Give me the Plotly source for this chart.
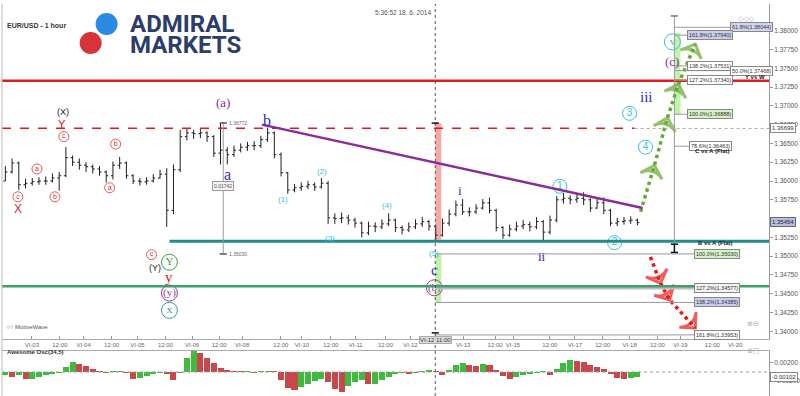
import plotly.graph_objects as go

# ------------------------------------------------------------------ data
# 3-hour bars, EUR/USD (hour offsets from chart start)
closes = [
    1.3612, 1.3624, 1.3595, 1.3597, 1.3599, 1.3600, 1.3600, 1.3604, 1.3607, 1.3631,
    1.3625, 1.3621, 1.3619, 1.3616, 1.3612, 1.3607, 1.3621, 1.3624, 1.3607, 1.3600,
    1.3599, 1.3600, 1.3604, 1.3609, 1.3561, 1.3615, 1.3659, 1.3664, 1.3663, 1.3664,
    1.3659, 1.3637, 1.3641, 1.3635, 1.3641, 1.3645, 1.3647, 1.3647, 1.3655, 1.3664,
    1.3635, 1.3611, 1.3588, 1.3591, 1.3593, 1.3595, 1.3592, 1.3597, 1.3551, 1.3550,
    1.3551, 1.3548, 1.3544, 1.3531, 1.3540, 1.3539, 1.3543, 1.3548, 1.3538, 1.3535,
    1.3539, 1.3543, 1.3546, 1.3540, 1.3528, 1.3544, 1.3556, 1.3568, 1.3559, 1.3559,
    1.3564, 1.3571, 1.3561, 1.3538, 1.3528, 1.3536, 1.3540, 1.3542, 1.3539, 1.3546,
    1.3532, 1.3548, 1.3575, 1.3577, 1.3575, 1.3577, 1.3575, 1.3564, 1.3571, 1.3561,
    1.3544, 1.3546, 1.3547, 1.3548, 1.3545]
highs = [
    1.3620, 1.3630, 1.3626, 1.3603, 1.3604, 1.3605, 1.3606, 1.3610, 1.3612, 1.3645,
    1.3634, 1.3630, 1.3625, 1.3622, 1.3620, 1.3614, 1.3626, 1.3632, 1.3626, 1.3609,
    1.3604, 1.3605, 1.3609, 1.3615, 1.3617, 1.3622, 1.3668, 1.3670, 1.3668, 1.3669,
    1.3666, 1.3661, 1.3677, 1.3645, 1.3647, 1.3650, 1.3652, 1.3653, 1.3660, 1.3671,
    1.3666, 1.3638, 1.3612, 1.3596, 1.3598, 1.3600, 1.3598, 1.3604, 1.3600, 1.3557,
    1.3558, 1.3555, 1.3551, 1.3546, 1.3546, 1.3545, 1.3549, 1.3557, 1.3550, 1.3541,
    1.3545, 1.3549, 1.3552, 1.3548, 1.3542, 1.3550, 1.3562, 1.3574, 1.3576, 1.3565,
    1.3569, 1.3576, 1.3578, 1.3563, 1.3540, 1.3542, 1.3546, 1.3548, 1.3546, 1.3552,
    1.3548, 1.3554, 1.3580, 1.3584, 1.3581, 1.3583, 1.3585, 1.3577, 1.3577, 1.3578,
    1.3563, 1.3551, 1.3552, 1.3553, 1.3550]
lows = [
    1.3600, 1.3610, 1.3588, 1.3590, 1.3594, 1.3595, 1.3595, 1.3598, 1.3587, 1.3605,
    1.3620, 1.3615, 1.3612, 1.3610, 1.3607, 1.3598, 1.3602, 1.3616, 1.3603, 1.3596,
    1.3594, 1.3595, 1.3598, 1.3603, 1.3539, 1.3556, 1.3612, 1.3654, 1.3656, 1.3657,
    1.3652, 1.3632, 1.3622, 1.3622, 1.3632, 1.3638, 1.3640, 1.3641, 1.3644, 1.3652,
    1.3630, 1.3606, 1.3583, 1.3585, 1.3587, 1.3589, 1.3587, 1.3590, 1.3543, 1.3543,
    1.3544, 1.3542, 1.3538, 1.3525, 1.3528, 1.3532, 1.3536, 1.3540, 1.3532, 1.3529,
    1.3532, 1.3536, 1.3539, 1.3534, 1.3521, 1.3526, 1.3540, 1.3553, 1.3555, 1.3553,
    1.3556, 1.3562, 1.3557, 1.3533, 1.3523, 1.3526, 1.3533, 1.3536, 1.3533, 1.3536,
    1.3521, 1.3529, 1.3545, 1.3570, 1.3569, 1.3571, 1.3568, 1.3559, 1.3563, 1.3556,
    1.3540, 1.3540, 1.3542, 1.3543, 1.3541]
first_open = 1.3600

# Awesome Oscillator (34,5)
ao = [
    -0.0007, -0.0011, -0.0007, -0.0015, -0.0015, -0.0011, -0.0007, -0.0004, -0.0002, 0.0011,
    0.0022, 0.0018, 0.0013, 0.0007, 0.0002, -0.0002, 0.0001, 0.0002, -0.0002, -0.0015,
    -0.0013, -0.0009, -0.0004, -0.0002, -0.0004, -0.0018, -0.0002, 0.0031, 0.0046, 0.0042,
    0.0031, 0.0020, 0.0009, 0.0004, 0.0002, 0.0001, 0.0001, -0.0002, 0.0001, 0.0002,
    0.0001, -0.0018, -0.0035, -0.0040, -0.0033, -0.0026, -0.0020, -0.0015, -0.0022, -0.0037,
    -0.0044, -0.0031, -0.0022, -0.0018, -0.0026, -0.0026, -0.0018, -0.0011, -0.0004, -0.0002,
    -0.0004, -0.0002, 0.0002, 0.0004, 0.0001, -0.0007, 0.0004, 0.0015, 0.0020, 0.0015,
    0.0013, 0.0018, 0.0015, 0.0004, -0.0009, -0.0015, -0.0011, -0.0007, -0.0004, -0.0002,
    0.0001, -0.0007, 0.0007, 0.0020, 0.0026, 0.0024, 0.0022, 0.0015, 0.0011, 0.0007,
    -0.0004, -0.0013, -0.0015, -0.0013, -0.0011]

bar_hours = [1.5 + 3 * k for k in range(len(closes))]
opens = [first_open] + closes[:-1]

tick_pos = [13.3, 25.8, 36.4, 48.9, 60.4, 72.9, 84.9, 96.9, 107.1, 124.4, 133.8, 146.7,
            157.8, 171.1, 182.2, 205.8, 220.0, 228.0, 244.4, 255.6, 268.0, 280.0,
            292.4, 302.7, 316.9, 327.1]
tick_text = ['VI-03', '12:00', 'VI-04', '12:00', 'VI-05', '12:00', 'VI-06', '12:00',
             'VI-08', '12:00', 'VI-10', '12:00', 'VI-11', '12:00', 'VI-12', 'VI-13',
             '12:00', 'VI-15', '12:00', 'VI-17', '12:00', 'VI-18', '12:00', 'VI-19',
             '12:00', 'VI-20']
price_ticks = [1.3400, 1.3425, 1.3450, 1.3475, 1.3500, 1.3525, 1.3550, 1.3575, 1.3600,
               1.3625, 1.3650, 1.3675, 1.3700, 1.3725, 1.3750, 1.3775, 1.3800]
# the 1.35500 label is hidden behind the last-price box in the reference
price_tick_text = ['1.34000', '1.34250', '1.34500', '1.34750', '1.35000', '1.35250', '',
                   '1.35750', '1.36000', '1.36250', '1.36500', '1.36750', '1.37000',
                   '1.37250', '1.37500', '1.37750', '1.38000']

# key levels
level_yw = 1.37334
level_dash = 1.3670
level_teal = 1.3520
level_green = 1.3460
trend_h = [116.0, 285.8]
trend_p = [1.3675, 1.3564]

# Fibonacci projections
fib_up_text = ['61.8%(1.38044)', '161.8%(1.37940)', '138.2%(1.37531)', '50.0%(1.37468)',
               '127.2%(1.37340)', '100.0%(1.36888)', '78.6%(1.36463)']
fib_up_price = [1.38044, 1.37940, 1.37531, 1.37468, 1.37340, 1.36888, 1.36463]
fib_up_box = [324.9, 305.8, 305.8, 324.9, 305.8, 305.8, 306.7]
fib_up_bg = ['#d3d5f0', '#c9cdee', '#ffffff', '#ffffff', '#ffffff', '#d6f2c8', '#ffffff']
fib_dn_text = ['100.0%(1.35030)', '127.2%(1.34577)', '138.2%(1.34385)', '161.8%(1.33953)']
fib_dn_price = [1.35030, 1.34577, 1.34385, 1.33953]
fib_dn_bg = ['#d6f2c8', '#f2f2f2', '#c9cdee', '#ffffff']

# projected paths
green_h = [284.9, 291.1, 296.9, 301.8, 309.3]
green_p = [1.3559, 1.3621, 1.3684, 1.3729, 1.3782]
red_h = [289.3, 293.8, 297.8, 309.3]
red_p = [1.3499, 1.3464, 1.3442, 1.34045]

# wave labels
red_circ_text = ['c', 'a', 'b', 'c', 'a', 'b', 'c']
red_circ_h = [7.1, 15.6, 23.6, 27.6, 48.0, 50.7, 66.7]
red_circ_p = [1.3579, 1.3616, 1.3579, 1.3659, 1.3591, 1.3649, 1.3502]

big_circ_text = ['Y', '(y)', 'x', '(b)', 'v']
big_circ_h = [74.7, 74.7, 74.7, 192.9, 299.1]
big_circ_p = [1.3492, 1.3451, 1.3428, 1.3458, 1.3785]
big_circ_col = ['#3a9a3a', '#9a3aa0', '#2a9a9a', '#9a3aa0', '#3bbde0']

num_circ_text = ['1', '2', '3', '4']
num_circ_h = [248.9, 273.3, 280.0, 287.1]
num_circ_p = [1.3593, 1.3518, 1.3690, 1.3645]

CY = '#3bbde0'
BL = '#2a2ad0'
PU = '#8b2a9b'
SANS = 'Liberation Sans, Arial, sans-serif'
SERIF = 'Liberation Serif, DejaVu Serif, serif'
wave_text = ['X', 'Y', '(X)', '(Y)', 'y', '(a)', 'b', 'a', '(1)', '(2)', '(3)', '(4)',
             '(5)', 'c', 'i', 'ii', 'iii', '(c)']
wave_h = [7.1, 26.7, 27.1, 68.4, 74.7, 98.7, 118.2, 100.4, 125.3, 142.7, 146.2, 171.6,
          192.9, 192.9, 204.4, 240.9, 287.6, 299.1]
wave_p = [1.3563, 1.3676, 1.3692, 1.3484, 1.3472, 1.3705, 1.3680, 1.3608, 1.3575, 1.3612,
          1.3524, 1.3568, 1.3503, 1.3482, 1.3588, 1.3500, 1.3712, 1.3759]
wave_col = ['#c03030', '#d02020', '#222222', '#222222', '#e02020', PU, BL, BL, CY, CY, CY,
            CY, CY, BL, BL, BL, BL, PU]
wave_size = [12, 11, 9, 9, 15, 13, 16, 16, 8, 8, 8, 8, 8, 15, 13, 13, 15, 13]
wave_serif = [False, False, False, False, True, True, True, True, False, False, False,
              False, False, True, True, True, True, True]

X_MAX = 342.2


def px(x):
    return (x - 2) / 770.0


def py(y):
    return (396 - y) / 396.0


# ------------------------------------------------------------------ figure
fig = go.Figure()

fig.add_trace(go.Ohlc(
    x=bar_hours, open=opens, high=highs, low=lows, close=closes,
    increasing=dict(line=dict(color='#1e1e1e', width=1)),
    decreasing=dict(line=dict(color='#1e1e1e', width=1)),
    tickwidth=0.3, xaxis='x', yaxis='y', hoverinfo='skip', showlegend=False))

ao_col = ['#3dbb3d' if i == 0 or ao[i] >= ao[i - 1] else '#c9474a' for i in range(len(ao))]
fig.add_trace(go.Bar(x=bar_hours, y=ao, width=2.7, marker=dict(color=ao_col, line=dict(width=0)),
                     xaxis='x2', yaxis='y2', hoverinfo='skip', showlegend=False))

# dotted projection paths with chevron heads oriented along the path
for hs, ps, col in [(green_h, green_p, '#66a832'), (red_h, red_p, '#ee1515')]:
    fig.add_trace(go.Scatter(
        x=hs, y=ps, mode='lines+markers', xaxis='x', yaxis='y',
        line=dict(color=col, width=3.5, dash='dot'),
        marker=dict(symbol='arrow-wide-open', size=[0] + [16] * (len(hs) - 1), color=col,
                    angleref='previous', line=dict(width=3, color=col)),
        hoverinfo='skip', showlegend=False))

# circled labels
fig.add_trace(go.Scatter(x=red_circ_h, y=red_circ_p, text=red_circ_text, mode='markers+text',
                         textposition='middle center', xaxis='x', yaxis='y',
                         marker=dict(symbol='circle-open', size=10, color='#ee5555', line=dict(width=1)),
                         textfont=dict(size=7, color='#dd2b2b', family=SANS),
                         hoverinfo='skip', showlegend=False))
fig.add_trace(go.Scatter(x=big_circ_h, y=big_circ_p, text=big_circ_text, mode='markers+text',
                         textposition='middle center', xaxis='x', yaxis='y',
                         marker=dict(symbol='circle-open', size=16, color=big_circ_col, line=dict(width=1)),
                         textfont=dict(size=11, color=big_circ_col, family=SERIF),
                         hoverinfo='skip', showlegend=False))
fig.add_trace(go.Scatter(x=num_circ_h, y=num_circ_p, text=num_circ_text, mode='markers+text',
                         textposition='middle center', xaxis='x', yaxis='y',
                         marker=dict(symbol='circle-open', size=14, color=CY, line=dict(width=1)),
                         textfont=dict(size=10, color=CY, family=SANS),
                         hoverinfo='skip', showlegend=False))

shapes = []


def seg(x0, y0, x1, y1, color, width=1, dash='solid', xref='x', yref='y'):
    shapes.append(dict(type='line', x0=x0, y0=y0, x1=x1, y1=y1, xref=xref, yref=yref,
                       line=dict(color=color, width=width, dash=dash)))


def rect(x0, y0, x1, y1, color):
    shapes.append(dict(type='rect', x0=x0, y0=y0, x1=x1, y1=y1, xref='x', yref='y',
                       fillcolor=color, line=dict(width=0), layer='below'))


# highlight rectangles
rect(193.3, 1.3522, 196.0, 1.3677, '#f6a9a9')
rect(193.3, 1.34385, 196.0, 1.3503, '#bff2a8')
rect(300.0, 1.36878, 302.7, 1.37968, '#bff5aa')

# levels
seg(0, level_yw, X_MAX, level_yw, '#e3191c', 2.5)
seg(0, level_dash, 282.2, level_dash, '#e3191c', 1.5, 'dash')
seg(282.2, 1.36699, X_MAX, 1.36699, '#aaaaaa', 1, 'dot')
seg(74.7, level_teal, X_MAX, level_teal, '#1f8c8c', 3)
seg(193.3, 1.34577, 308.9, 1.34577, '#bdbdbd', 3)
seg(0, level_green, X_MAX, level_green, '#3f9e6c', 2.5)
seg(trend_h[0], trend_p[0], trend_h[1], trend_p[1], '#8b2a9b', 2.5)

# fib lines
for p, bx in zip(fib_up_price, fib_up_box):
    seg(300.0, p, bx, p, '#9a9a9a', 1)
for p in fib_dn_price:
    if p != 1.34577:
        seg(193.3, p, 308.9, p, '#9a9a9a', 1)

# measurement verticals
seg(193.3, 0, 193.3, 0.99, '#555555', 1, 'dot', 'x', 'paper')
seg(98.7, 1.3503, 98.7, 1.36772, '#999999', 1)
seg(300.0, 1.38195, 300.0, 1.3505, '#999999', 1)
for (hx, pv, c) in [(98.7, 1.36772, '#555'), (98.7, 1.3503, '#555'), (193.3, 1.3677, '#111'),
                    (193.3, 1.3398, '#111'), (300.0, 1.38195, '#777'), (300.0, 1.3516, '#111'),
                    (300.0, 1.3505, '#111')]:
    seg(hx - 1.6, pv, hx + 1.6, pv, c, 1.5)
seg(300.0, 1.3516, 300.0, 1.3505, '#111', 1.5)

# AO zero line & frames
seg(0, 0, X_MAX, 0, '#999999', 1, 'dot', 'x2', 'y2')
seg(0, 0, 0, 0.99, '#bbbbbb', 1, 'solid', 'paper', 'paper')

# logo circles
for cx, cy, col in [(107, 24, '#2a8ae6'), (91, 43, '#d8333b')]:
    shapes.append(dict(type='circle', xref='paper', yref='paper', xsizemode='pixel',
                       ysizemode='pixel', xanchor=px(cx), yanchor=py(cy), x0=-11, x1=11,
                       y0=-11, y1=11, fillcolor=col, line=dict(width=0)))

ann = []

# wave text labels
for t, h, p, c, s, sf in zip(wave_text, wave_h, wave_p, wave_col, wave_size, wave_serif):
    ann.append(dict(x=h, y=p, xref='x', yref='y', text=t, showarrow=False,
                    font=dict(size=s, color=c, family=SERIF if sf else SANS)))

# fib boxes
for t, p, bx, bg in zip(fib_up_text, fib_up_price, fib_up_box, fib_up_bg):
    ann.append(dict(x=bx, y=p, xref='x', yref='y', text=t, showarrow=False, xanchor='left',
                    font=dict(size=5.5, color='#333', family=SANS), bgcolor=bg,
                    bordercolor='#888', borderwidth=1, borderpad=1))
for t, p, bg in zip(fib_dn_text, fib_dn_price, fib_dn_bg):
    ann.append(dict(x=308.9, y=p, xref='x', yref='y', text=t, showarrow=False, xanchor='left',
                    font=dict(size=5.5, color='#333', family=SANS), bgcolor=bg,
                    bordercolor='#888', borderwidth=1, borderpad=1))

# misc chart texts
for t, h, p, xa in [('Y vs W', 341.3, 1.37383, 'right'), ('C vs A (Flat)', 316.9, 1.3640, 'center'),
                    ('B vs A (Flat)', 318.2, 1.35175, 'center')]:
    ann.append(dict(x=h, y=p, xref='x', yref='y', text='<b>' + t + '</b>', showarrow=False,
                    xanchor=xa, font=dict(size=6, color='#222', family=SANS)))
ann.append(dict(x=98.7, y=1.3593, xref='x', yref='y', text='0.01742', showarrow=False,
                font=dict(size=5, color='#555', family=SANS), bgcolor='#f4f4f4',
                bordercolor='#999', borderwidth=1, borderpad=1))
for t, p in [('1.36772', 1.36772), ('1.35030', 1.3503)]:
    ann.append(dict(x=100.6, y=p, xref='x', yref='y', text=t, showarrow=False, xanchor='left',
                    font=dict(size=5, color='#666', family=SANS)))

# axis value boxes
ann.append(dict(x=1.0, y=1.36699, xref='paper', yref='y', text='1.36699', showarrow=False,
                xanchor='left', xshift=1, font=dict(size=6, color='#333', family=SANS),
                bgcolor='#ffffff', bordercolor='#888', borderwidth=1, borderpad=1))
ann.append(dict(x=1.0, y=1.35454, xref='paper', yref='y', text='1.35454', showarrow=False,
                xanchor='left', xshift=1, font=dict(size=6, color='#222', family=SANS),
                bgcolor='#b9bde3', bordercolor='#667', borderwidth=1, borderpad=1))
ann.append(dict(x=1.0, y=-0.00102, xref='paper', yref='y2', text='-0.00102', showarrow=False,
                xanchor='left', xshift=1, font=dict(size=6, color='#333', family=SANS),
                bgcolor='#ffffff', bordercolor='#888', borderwidth=1, borderpad=1))
ann.append(dict(x=193.3, y=py(344), xref='x', yref='paper', text='VI-12 11:00', showarrow=False,
                font=dict(size=6, color='#333', family=SANS), bgcolor='#dddddd',
                bordercolor='#aaa', borderwidth=1, borderpad=0))

# header / panel titles
ann.append(dict(x=px(5), y=py(20), xref='paper', yref='paper', text='<b>EUR/USD - 1 hour</b>',
                showarrow=False, xanchor='left', font=dict(size=7, color='#333', family=SANS)))
ann.append(dict(x=px(405), y=py(7), xref='paper', yref='paper', text='5:36:52 18. 6. 2014',
                showarrow=False, font=dict(size=6.5, color='#555', family=SANS)))
ann.append(dict(x=px(4), y=py(332), xref='paper', yref='paper', text='○○ MotiveWave',
                showarrow=False, xanchor='left', font=dict(size=6, color='#555', family=SANS)))
ann.append(dict(x=px(5), y=py(357), xref='paper', yref='paper', text='<b>Awesome Osc(34,5)</b>',
                showarrow=False, xanchor='left', font=dict(size=6, color='#333', family=SANS)))
for t, xx, yy in [('◇◇◇', 760, 13), ('⊕⊖', 764, 330), ('⊕□', 764, 357)]:
    ann.append(dict(x=px(xx), y=py(yy), xref='paper', yref='paper', text=t, showarrow=False,
                    font=dict(size=7, color='#aaa', family='DejaVu Sans')))

# logo text
for t, yy in [('ADMIRAL', 24), ('MARKETS', 45)]:
    ann.append(dict(x=px(128), y=py(yy), xref='paper', yref='paper', text='<b>' + t + '</b>',
                    showarrow=False, xanchor='left', yanchor='middle',
                    font=dict(size=24, color='#2c3d6c', family='Roboto')))

tick_font = dict(size=6.5, color='#555', family=SANS)
fig.update_layout(
    width=800, height=396, margin=dict(l=2, r=28, t=0, b=0),
    paper_bgcolor='white', plot_bgcolor='white', showlegend=False, bargap=0,
    xaxis=dict(range=[0, X_MAX], domain=[0, 1], anchor='y', tickvals=tick_pos,
               ticktext=tick_text, tickfont=dict(size=6, color='#666', family=SANS),
               ticks='inside', ticklen=3, tickcolor='#999', showline=True, linecolor='#aaa',
               showgrid=False, zeroline=False, rangeslider=dict(visible=False)),
    yaxis=dict(domain=[57 / 396, 392 / 396], range=[1.338986, 1.383541], side='right',
               anchor='x', tickvals=price_ticks, ticktext=price_tick_text, tickfont=tick_font,
               ticks='outside', ticklen=3, tickcolor='#999', showline=True, linecolor='#999',
               showgrid=False, zeroline=False),
    xaxis2=dict(range=[0, X_MAX], domain=[0, 1], anchor='y2', side='top',
                showticklabels=False, showline=True, linecolor='#aaa', showgrid=False,
                zeroline=False, ticks=''),
    yaxis2=dict(domain=[0, 45 / 396], range=[-0.00528, 0.00462], side='right', anchor='x2',
                tickvals=[0.002, -0.002], ticktext=['0.00200', '-0.00200'], tickfont=tick_font,
                ticks='outside', ticklen=3, tickcolor='#999', showline=True, linecolor='#999',
                showgrid=False, zeroline=False),
    shapes=shapes, annotations=ann,
)

fig.write_html('out.html')
